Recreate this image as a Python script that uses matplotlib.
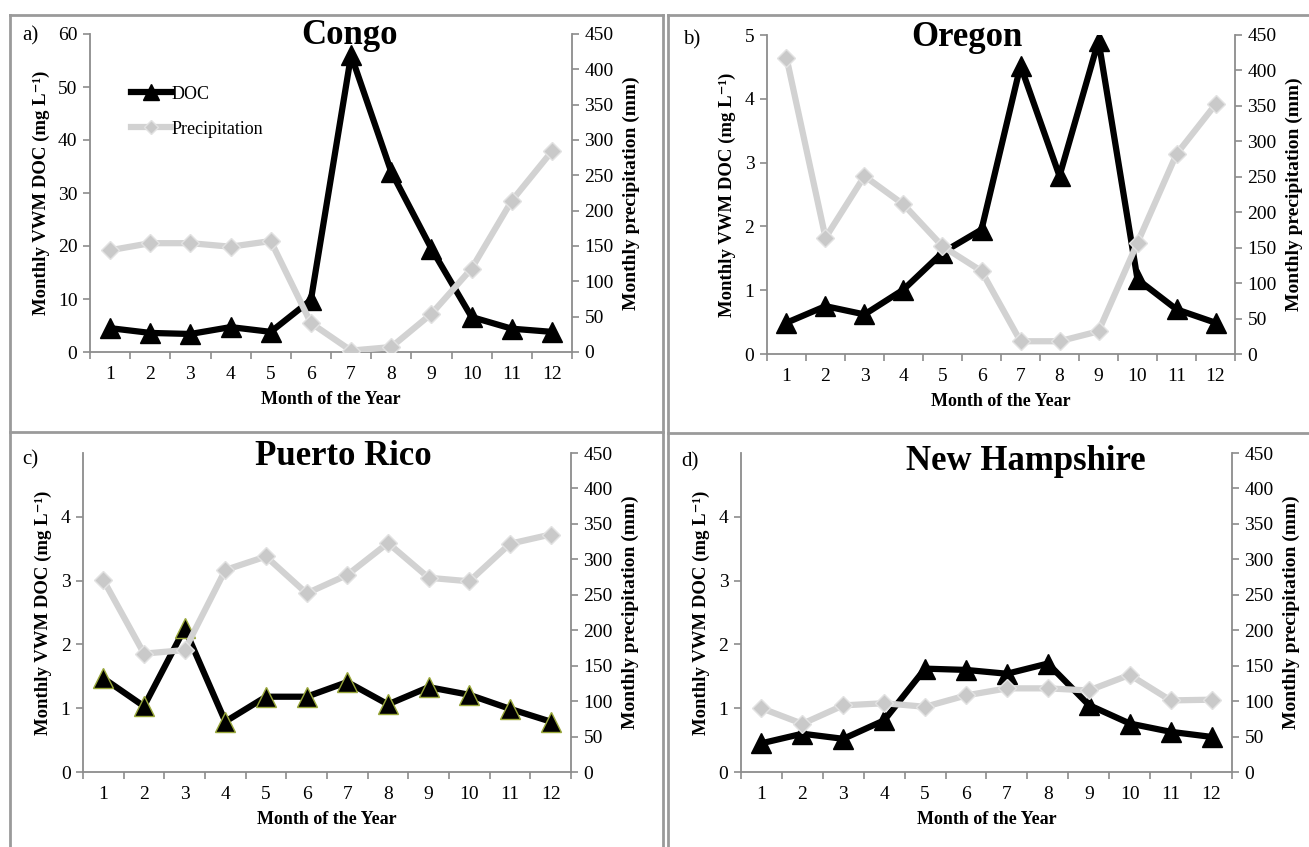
import numpy as np
import matplotlib
matplotlib.use("Agg")
import matplotlib.pyplot as plt
from matplotlib.lines import Line2D

plt.rcParams['font.family'] = ['Liberation Serif', 'DejaVu Serif']

months = list(range(1, 13))

# monthly volume-weighted mean DOC (mg/L)
doc_congo = [4.5, 3.6, 3.4, 4.7, 3.8, 9.8, 56.0, 34.0, 19.5, 6.6, 4.4, 3.8]
doc_oregon = [0.49, 0.75, 0.62, 1.01, 1.59, 1.95, 4.52, 2.79, 4.91, 1.17, 0.70, 0.49]
doc_puerto = [1.47, 1.03, 2.25, 0.79, 1.18, 1.18, 1.41, 1.06, 1.33, 1.21, 0.99, 0.79]
doc_nh = [0.45, 0.60, 0.52, 0.81, 1.62, 1.60, 1.54, 1.70, 1.05, 0.76, 0.63, 0.55]

# monthly precipitation (mm)
prec_congo = [144, 154, 154, 149, 157, 41, 2, 7, 54, 118, 214, 284]
prec_oregon = [418, 164, 251, 211, 152, 117, 18, 18, 32, 157, 282, 352]
prec_puerto = [271, 167, 172, 285, 304, 252, 278, 323, 274, 269, 322, 335]
prec_nh = [90, 68, 94, 97, 92, 108, 118, 118, 115, 137, 101, 102]

panels = [
    ("a)", "Congo", doc_congo, prec_congo, (0, 60), [0, 10, 20, 30, 40, 50, 60]),
    ("b)", "Oregon", doc_oregon, prec_oregon, (0, 5), [0, 1, 2, 3, 4, 5]),
    ("c)", "Puerto Rico", doc_puerto, prec_puerto, (0, 5), [0, 1, 2, 3, 4]),
    ("d)", "New Hampshire", doc_nh, prec_nh, (0, 5), [0, 1, 2, 3, 4]),
]

W, H = 1309, 847
# axes boxes in pixels: left, right, top, bottom
boxes = [(90, 572, 34, 352), (767, 1235, 35, 354), (83, 571, 453, 772), (741, 1232, 453, 772)]
title_pos = [(349, 36), (967, 38), (343, 456), (1026, 462)]
label_pos = [(30, 36), (692, 40), (30, 460), (690, 462)]

spine_col = '#8c8c8c'
prec_col = '#d2d2d2'

fig = plt.figure(figsize=(W / 100, H / 100), dpi=100)

for i, (tag, name, doc, prec, ylim, yticks) in enumerate(panels):
    l, r, t, b = boxes[i]
    ax = fig.add_axes([l / W, 1 - b / H, (r - l) / W, (b - t) / H])
    ax2 = ax.twinx()

    edge = '#9aa83a' if name == "Puerto Rico" else 'black'
    ax.plot(months, doc, color='black', lw=4.5, marker='^', ms=14,
            mfc='black', mec=edge, mew=1, label='DOC', zorder=3)
    ax2.plot(months, prec, color=prec_col, lw=4.5, marker='D', ms=9,
             mfc='#c9c9c9', mec='#e2e2e2', mew=1, label='Precipitation')

    ax.set_xlim(0.5, 12.5)
    ax.set_ylim(*ylim)
    ax.set_yticks(yticks)
    ax2.set_ylim(0, 450)
    ax2.set_yticks(range(0, 451, 50))

    ax.set_xticks(months)
    ax.set_xticks(np.arange(0.5, 13, 1), minor=True)
    ax.tick_params(axis='x', which='major', length=0, pad=10, labelsize=14)
    ax.tick_params(axis='x', which='minor', length=5, color=spine_col, width=1.2)
    ax.tick_params(axis='y', length=5, color=spine_col, width=1.2, labelsize=14, pad=4)
    ax2.tick_params(axis='y', length=5, color=spine_col, width=1.2, labelsize=14, pad=4)

    for a in (ax, ax2):
        a.spines['top'].set_visible(False)
        for s in ('left', 'right', 'bottom'):
            a.spines[s].set_color(spine_col)
            a.spines[s].set_linewidth(1.3)
    ax.spines['right'].set_visible(False)
    ax2.spines['left'].set_visible(False)
    ax2.spines['bottom'].set_visible(False)

    ax.set_xlabel("Month of the Year", fontsize=13, fontweight='bold', labelpad=6)
    ax.set_ylabel("Monthly VWM DOC (mg L\u207b\u00b9)", fontsize=13.5,
                  fontweight='bold', labelpad=6)
    ax2.set_ylabel("Monthly precipitation (mm)", fontsize=14, fontweight='bold', labelpad=6)

    fig.text(title_pos[i][0] / W, 1 - title_pos[i][1] / H, name, fontsize=25,
             fontweight='bold', ha='center', va='center')
    fig.text(label_pos[i][0] / W, 1 - label_pos[i][1] / H, tag, fontsize=15,
             ha='center', va='center')

    if i == 0:
        h1, l1 = ax.get_legend_handles_labels()
        h2, l2 = ax2.get_legend_handles_labels()
        ax2.legend(h1 + h2, l1 + l2, loc='upper left', bbox_to_anchor=(0.07, 0.86),
                   frameon=False, fontsize=13, handlelength=2.2, handletextpad=0.05,
                   labelspacing=1.0, borderaxespad=0, markerscale=0.8)

# panel frames
frame_col = '#9a9a9a'
segs = [
    ((10, 663), (15, 15)), ((668, 1309), (15, 15)),
    ((10, 663), (432, 432)), ((668, 1309), (433, 433)),
    ((10, 10), (15, 847)), ((663, 663), (15, 847)), ((668, 668), (15, 847)),
]
for xs, ys in segs:
    fig.add_artist(Line2D([x / W for x in xs], [1 - y / H for y in ys],
                          color=frame_col, lw=2))

fig.savefig("out.png", dpi=100)
